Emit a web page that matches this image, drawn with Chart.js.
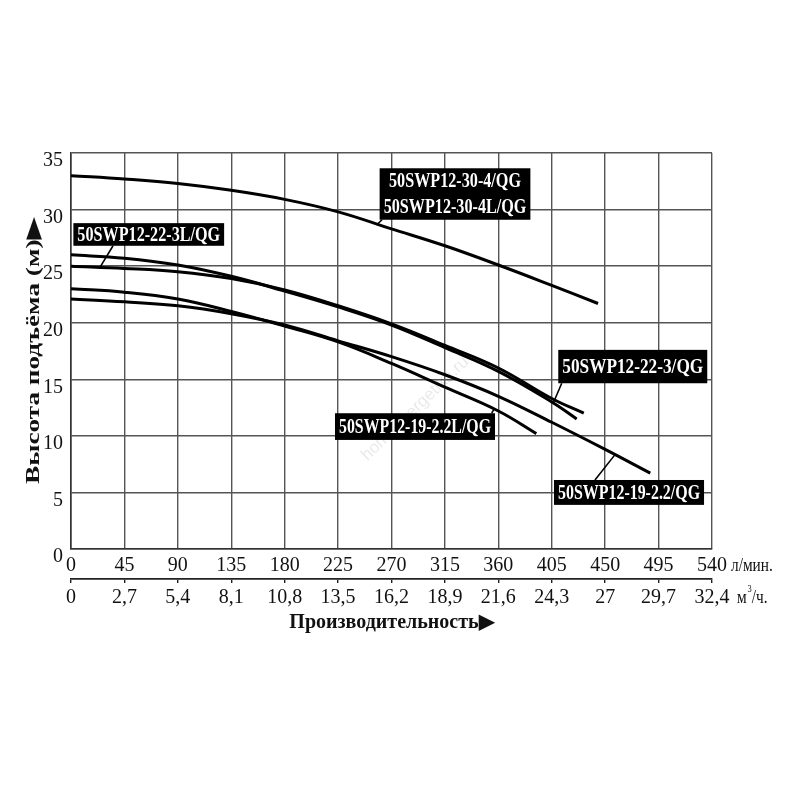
<!DOCTYPE html>
<html lang="ru">
<head>
    <meta charset="UTF-8">
    <title>50SWP12 - характеристики</title>
    <script src="https://cdn.jsdelivr.net/npm/chart.js"></script>
    <style>
        body { margin: 0; background: #fff; }
        #wrap { width: 800px; height: 800px; }
    </style>
</head>
<body>
<div id="wrap"><canvas id="pumpChart" width="800" height="800"></canvas></div>

<script>
// flow axis ticks (л/мин.) and matching m3/h labels
const flowLpm = [0, 45, 90, 135, 180, 225, 270, 315, 360, 405, 450, 495, 540];
const flowM3 = ['0', '2,7', '5,4', '8,1', '10,8', '13,5', '16,2', '18,9', '21,6', '24,3', '27', '29,7', '32,4'];
const headTicks = [0, 5, 10, 15, 20, 25, 30, 35];

// curves
const q30 = [0, 45, 90, 135, 180, 225, 270, 315, 360, 405, 444];
const h30 = [33.0, 32.7, 32.3, 31.7, 30.9, 29.8, 28.3, 26.8, 25.1, 23.3, 21.7];

const q223 = [0, 45, 90, 135, 180, 225, 270, 315, 360, 405, 426];
const h223 = [26.0, 25.7, 25.1, 24.1, 22.8, 21.4, 19.8, 17.8, 15.7, 13.0, 11.5];

const q223L = [0, 45, 90, 135, 180, 225, 270, 315, 360, 405, 432];
const h223L = [25.0, 24.8, 24.5, 23.9, 22.9, 21.5, 19.9, 18.0, 16.0, 13.3, 12.0];

const q1922L = [0, 45, 90, 135, 180, 225, 270, 315, 360, 392];
const h1922L = [23.0, 22.7, 22.1, 21.0, 19.7, 18.3, 16.4, 14.3, 12.2, 10.2];

const q1922 = [0, 45, 90, 135, 180, 225, 270, 315, 360, 405, 450, 488];
const h1922 = [22.1, 21.85, 21.5, 20.8, 19.8, 18.4, 17.0, 15.4, 13.5, 11.2, 8.8, 6.7];

const serif = "'Liberation Serif', 'Times New Roman', serif";

function pts(qs, hs) {
    return qs.map((q, i) => ({ x: q, y: hs[i] }));
}

function curve(qs, hs) {
    return {
        data: pts(qs, hs),
        borderColor: '#000',
        borderWidth: 3,
        pointRadius: 0,
        fill: false,
        tension: 0.4
    };
}

// value on a curve at flow q (straight between read points)
function headAt(qs, hs, q) {
    for (let i = 1; i < qs.length; i++) {
        if (q <= qs[i]) {
            const t = (q - qs[i - 1]) / (qs[i] - qs[i - 1]);
            return hs[i - 1] + t * (hs[i] - hs[i - 1]);
        }
    }
    return hs[hs.length - 1];
}

// model tags: box corners and leader start in data units, leader end sits on a curve
const tags = [
    { text: ['50SWP12-30-4/QG', '50SWP12-30-4L/QG'], x0: 260, x1: 387, y0: 33.65, y1: 29.1, from: [262, 29.1], q: q30, h: h30, at: 258 },
    { text: ['50SWP12-22-3L/QG'], x0: 2, x1: 129, y0: 28.8, y1: 26.8, from: [35.4, 26.8], q: q223L, h: h223L, at: 24.4 },
    { text: ['50SWP12-22-3/QG'], x0: 410.5, x1: 536, y0: 17.6, y1: 14.65, from: [413.4, 14.65], q: q223, h: h223, at: 406.3 },
    { text: ['50SWP12-19-2.2L/QG'], x0: 222.4, x1: 357.2, y0: 12.0, y1: 9.64, from: [354.4, 12.0], q: q1922L, h: h1922L, at: 356.4 },
    { text: ['50SWP12-19-2.2/QG'], x0: 406.9, x1: 533.3, y0: 6.1, y1: 3.9, from: [441.4, 6.1], q: q1922, h: h1922, at: 458.3 }
];

const extras = {
    id: 'extras',
    beforeDatasetsDraw(chart) {
        const ctx = chart.ctx;
        const x = chart.scales.x, y = chart.scales.y;
        // faint watermark
        ctx.save();
        ctx.translate(x.getPixelForValue(290), y.getPixelForValue(12.4));
        ctx.rotate(-44 * Math.PI / 180);
        ctx.fillStyle = 'rgba(0,0,0,0.09)';
        ctx.font = "17px 'Liberation Sans', sans-serif";
        ctx.textAlign = 'center';
        ctx.textBaseline = 'middle';
        ctx.fillText('homeenergetika.ru', 0, 0);
        ctx.restore();
    },
    afterDatasetsDraw(chart) {
        const ctx = chart.ctx;
        const x = chart.scales.x, y = chart.scales.y;
        ctx.save();
        tags.forEach(t => {
            // leader
            ctx.strokeStyle = '#000';
            ctx.lineWidth = 1.6;
            ctx.beginPath();
            ctx.moveTo(x.getPixelForValue(t.from[0]), y.getPixelForValue(t.from[1]));
            ctx.lineTo(x.getPixelForValue(t.at), y.getPixelForValue(headAt(t.q, t.h, t.at)));
            ctx.stroke();
            // box
            const bx0 = x.getPixelForValue(t.x0), bx1 = x.getPixelForValue(t.x1);
            const by0 = y.getPixelForValue(t.y0), by1 = y.getPixelForValue(t.y1);
            ctx.fillStyle = '#000';
            ctx.fillRect(bx0, by0, bx1 - bx0, by1 - by0);
            ctx.font = 'bold 20px ' + serif;
            ctx.fillStyle = '#fff';
            ctx.textAlign = 'center';
            ctx.textBaseline = 'middle';
            const wMax = Math.max(...t.text.map(s => ctx.measureText(s).width));
            const sx = Math.min(1, (bx1 - bx0 - 8) / wMax);
            const lh = (by1 - by0) / t.text.length;
            t.text.forEach((s, i) => {
                ctx.save();
                ctx.translate((bx0 + bx1) / 2, by0 + lh * (i + 0.5) + 1);
                ctx.scale(sx, 1);
                ctx.fillText(s, 0, 0);
                ctx.restore();
            });
        });
        ctx.restore();
    },
    afterDraw(chart) {
        const ctx = chart.ctx;
        const area = chart.chartArea;
        const x2 = chart.scales.x2;
        ctx.save();
        ctx.fillStyle = '#111';
        ctx.textBaseline = 'middle';

        // vertical axis title, stretched along its length like the original
        ctx.save();
        ctx.translate(33, (area.top + area.bottom) / 2);
        ctx.rotate(-Math.PI / 2);
        ctx.font = 'bold 19px ' + serif;
        ctx.textAlign = 'center';
        const yt = 'Высота подъёма (м)▶';
        ctx.scale(266 / ctx.measureText(yt).width, 1);
        ctx.fillText(yt, 0, 1);
        ctx.restore();

        // units
        ctx.font = '18px ' + serif;
        ctx.textAlign = 'left';
        const ux = area.right + 19;
        ctx.save();
        ctx.translate(ux, area.bottom + 17);
        ctx.scale(0.85, 1);
        ctx.fillText('л/мин.', 0, 0);
        ctx.restore();
        ctx.save();
        ctx.translate(ux + 6, x2.top + 19);
        ctx.scale(0.85, 1);
        ctx.fillText('м', 0, 0);
        const mw = ctx.measureText('м').width;
        ctx.font = '10px ' + serif;
        ctx.fillText('3', mw + 1, -9);
        ctx.font = '18px ' + serif;
        ctx.fillText('/ч.', mw + 6, 0);
        ctx.restore();
        ctx.restore();
    }
};

const gridColor = '#555';

new Chart(document.getElementById('pumpChart'), {
    type: 'line',
    data: {
        datasets: [
            curve(q30, h30),
            curve(q223, h223),
            curve(q223L, h223L),
            curve(q1922L, h1922L),
            curve(q1922, h1922)
        ]
    },
    options: {
        responsive: false,
        animation: false,
        layout: { padding: { top: 153, right: 88, left: 0, bottom: 165 } },
        plugins: {
            legend: { display: false },
            tooltip: { enabled: false }
        },
        scales: {
            x: {
                type: 'linear',
                position: 'bottom',
                min: 0,
                max: 540,
                afterBuildTicks: s => { s.ticks = flowLpm.map(v => ({ value: v })); },
                afterFit: s => { s.height = 30; },
                grid: { color: gridColor, lineWidth: 1.4, drawTicks: false },
                border: { color: '#333', width: 1.6 },
                ticks: {
                    color: '#111',
                    padding: 5,
                    maxRotation: 0,
                    autoSkip: false,
                    font: { family: serif, size: 20 }
                }
            },
            x2: {
                type: 'linear',
                position: 'bottom',
                min: 0,
                max: 540,
                afterBuildTicks: s => { s.ticks = flowLpm.map(v => ({ value: v })); },
                afterFit: s => { s.height = 56; },
                grid: { display: true, drawOnChartArea: false, drawTicks: true, tickLength: 4, color: '#222', lineWidth: 1.4 },
                border: { display: true, color: '#222', width: 1.8 },
                ticks: {
                    color: '#111',
                    padding: 3,
                    maxRotation: 0,
                    autoSkip: false,
                    font: { family: serif, size: 20 },
                    callback: (v, i) => flowM3[i]
                },
                title: {
                    display: true,
                    text: 'Производительность▶',
                    color: '#111',
                    padding: { top: 0, bottom: 0 },
                    font: { family: serif, size: 20, weight: 'bold' }
                }
            },
            y: {
                min: 0,
                max: 35,
                afterBuildTicks: s => { s.ticks = headTicks.map(v => ({ value: v })); },
                afterFit: s => { s.width = 71; },
                grid: { color: gridColor, lineWidth: 1.4, drawTicks: false },
                border: { color: '#333', width: 1.6 },
                ticks: {
                    color: '#111',
                    padding: 8,
                    labelOffset: 8,
                    font: { family: serif, size: 20 }
                }
            }
        }
    },
    plugins: [extras]
});
</script>
</body>
</html>
